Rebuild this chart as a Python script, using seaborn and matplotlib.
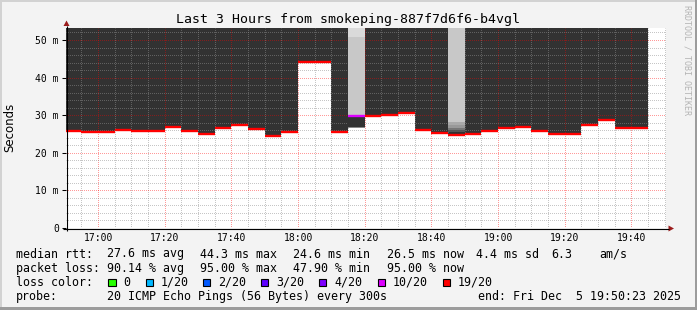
import matplotlib
matplotlib.use("Agg")
import matplotlib.pyplot as plt
import seaborn as sns
import pandas as pd
import numpy as np
from matplotlib.patches import Rectangle, Polygon

# ---------------- data ----------------
title = "Last 3 Hours from smokeping-887f7d6f6-b4vgl"
window_start = "16:50:23"
window_minutes = 180

bar_start = ["16:50", "16:55", "17:00", "17:05", "17:10", "17:15", "17:20",
             "17:25", "17:30", "17:35", "17:40", "17:45", "17:50", "17:55",
             "18:00", "18:05", "18:10", "18:15", "18:20", "18:25", "18:30",
             "18:35", "18:40", "18:45", "18:50", "18:55", "19:00", "19:05",
             "19:10", "19:15", "19:20", "19:25", "19:30", "19:35", "19:40"]
median_ms = [25.7, 25.6, 25.6, 26.0, 25.9, 25.9, 26.9,
             25.7, 25.1, 26.6, 27.3, 26.3, 24.5, 25.4,
             44.1, 44.2, 25.5, 29.7, 29.7, 30.0, 30.6,
             26.1, 25.2, 24.8, 25.0, 25.8, 26.6, 26.9,
             25.8, 24.9, 24.9, 27.5, 28.8, 26.5, 26.5]
bar_loss = ["19/20", "19/20", "19/20", "19/20", "19/20", "19/20", "19/20",
            "19/20", "19/20", "19/20", "19/20", "19/20", "19/20", "19/20",
            "19/20", "19/20", "19/20", "10/20", "19/20", "19/20", "19/20",
            "19/20", "19/20", "19/20", "19/20", "19/20", "19/20", "19/20",
            "19/20", "19/20", "19/20", "19/20", "19/20", "19/20", "19/20"]
smoke_top_ms = 53.3

# extra smoke bands for the two bars with fewer losses
band_bar = ["18:15", "18:15", "18:15", "18:15",
            "18:45", "18:45", "18:45", "18:45", "18:45"]
band_lo = [26.7, 26.9, 29.7, 50.8,
           25.4, 26.0, 26.6, 27.4, 28.3]
band_hi = [26.9, 29.7, 50.8, 53.3,
           26.0, 26.6, 27.4, 28.3, 53.3]
band_shade = ["s4", "s0", "s6", "s7",
              "s1", "s2", "s3", "s5", "s6"]

loss_labels = ["0", "1/20", "2/20", "3/20", "4/20", "10/20", "19/20"]
loss_colors = ["#26ff00", "#00b8ff", "#0059ff", "#5e00ff", "#7e00ff", "#dd00ff", "#ff0000"]

x_tick_labels = ["17:00", "17:20", "17:40", "18:00", "18:20", "18:40", "19:00", "19:20", "19:40"]
y_ticks = [0, 10, 20, 30, 40, 50]
y_tick_labels = ["0", "10 m", "20 m", "30 m", "40 m", "50 m"]

legend_rows = [
    [("median rtt:", 16), ("27.6 ms avg", 107.3), ("44.3 ms max", 200), ("24.6 ms min", 293.3),
     ("26.5 ms now", 386.7), ("4.4 ms sd", 476), ("6.3", 551), ("am/s", 599.5)],
    [("packet loss:", 16), ("90.14 % avg", 107.3), ("95.00 % max", 200), ("47.90 % min", 293.3),
     ("95.00 % now", 386.7)],
]
probe_text = "20 ICMP Echo Pings (56 Bytes) every 300s"
end_text = "end: Fri Dec  5 19:50:23 2025"

# ---------------- style ----------------
shade_colors = {"s0": "#323232", "s1": "#555555", "s2": "#777777", "s3": "#999999",
                "s4": "#888888", "s5": "#aaaaaa", "s6": "#c8c8c8", "s7": "#dadada"}
DARK = "#323232"
BG = "#f3f3f3"
MONO = "DejaVu Sans Mono"


def to_min(s):
    parts = [int(p) for p in s.split(":")]
    while len(parts) < 3:
        parts.append(0)
    return (parts[0] - 16) * 60 + parts[1] + parts[2] / 60.0


sns.set_theme(style="white")
plt.rcParams["font.family"] = ["DejaVu Sans Mono", "DejaVu Sans"]

W, H = 697, 310
fig = plt.figure(figsize=(W / 100, H / 100), dpi=100, facecolor=BG)

x0 = to_min(window_start)
x1 = x0 + window_minutes
L, R = 66.0, 666.0
Y0, YT = 228.0, 27.6
ax = fig.add_axes([L / W, (H - Y0) / H, (R - L) / W, (Y0 - YT) / H])
ax.set_facecolor("white")

starts = np.array([to_min(s) for s in bar_start])
df = pd.DataFrame({"center": starts + 2.5, "median": median_ms,
                   "top": [smoke_top_ms] * len(starts)})

sns.barplot(data=df, x="center", y="top", native_scale=True, width=1, color=DARK,
            saturation=1, errorbar=None, linewidth=0, antialiased=False, ax=ax)
sns.barplot(data=df, x="center", y="median", native_scale=True, width=1, color="white",
            saturation=1, errorbar=None, linewidth=0, antialiased=False, ax=ax)

for b, lo, hi, sh in zip(band_bar, band_lo, band_hi, band_shade):
    ax.bar(to_min(b), hi - lo, bottom=lo, width=5, align="edge",
           color=shade_colors[sh], linewidth=0, antialiased=False, zorder=2.7)

loss_map = dict(zip(loss_labels, loss_colors))
ax.hlines(median_ms, starts, starts + 5, colors=[loss_map[l] for l in bar_loss],
          linewidth=1.7, zorder=3, capstyle="butt")

ax.set_xlim(x0, x1)
ax.set_ylim(0, smoke_top_ms)
ax.set_xlabel("")
ax.set_ylabel("")

major_x = [to_min(t) for t in x_tick_labels]
ax.set_xticks(major_x)
ax.set_xticklabels(x_tick_labels)
ax.set_xticks(np.arange(55, 231, 5), minor=True)
ax.set_yticks(y_ticks)
ax.set_yticklabels(y_tick_labels)
ax.set_yticks(np.arange(2, 53, 2), minor=True)

ax.set_axisbelow(False)
ax.grid(which="major", color="#ff0000", alpha=0.4, linestyle=(0.5, (1, 1)), linewidth=0.72)
ax.grid(which="minor", color="#8f8f8f", alpha=0.5, linestyle=(0.5, (1, 1)), linewidth=0.72)

ax.tick_params(axis="x", which="both", length=0, pad=3.8, labelsize=7, labelcolor="black")
ax.tick_params(axis="y", which="major", length=3, width=0.75, direction="out", pad=2.2,
               labelsize=7, labelcolor="black", color="black", left=True)
ax.tick_params(axis="y", which="minor", length=0)
for lab in ax.get_xticklabels() + ax.get_yticklabels():
    lab.set_family(MONO)
for sp in ax.spines.values():
    sp.set_visible(False)

# ---------------- overlay in pixel coordinates ----------------
ov = fig.add_axes([0, 0, 1, 1], zorder=10)
ov.set_xlim(0, W)
ov.set_ylim(H, 0)
ov.axis("off")
ov.patch.set_alpha(0)

# frame bevel
ov.add_patch(Rectangle((0, 0), W, 2, color="#d2d2d2", lw=0))
ov.add_patch(Rectangle((0, 0), 2, H, color="#d2d2d2", lw=0))
ov.add_patch(Rectangle((0, H - 3), W, 3, color="#9c9c9c", lw=0))
ov.add_patch(Rectangle((W - 2, 0), 2, H, color="#9c9c9c", lw=0))

# axes lines & arrows
ov.plot([66.5, 66.5], [231, 25.5], color="black", lw=0.8, solid_capstyle="butt")
ov.plot([63, 669], [228.5, 228.5], color="black", lw=0.8, solid_capstyle="butt")
ov.add_patch(Polygon([(63.5, 26), (69.5, 26), (66.5, 20.5)], closed=True, color="#9b1c1c", lw=0))
ov.add_patch(Polygon([(668.5, 225.5), (668.5, 231.5), (674, 228.5)], closed=True, color="#9b1c1c", lw=0))

# titles
ov.text(W / 2, 19.5, title, ha="center", va="center", fontsize=9.5, family=MONO, color="black")
ov.text(10, 127, "Seconds", rotation=90, ha="center", va="center", fontsize=8.5,
        family="DejaVu Sans", color="black")
ov.text(687, 5, "RRDTOOL / TOBI OETIKER", rotation=-90, ha="center", va="top",
        fontsize=6, family=MONO, color="#b4b4b4")

# legend
LFS = 8.35
row_y = [254, 268.3, 282.3, 296.3]
for row, yy in zip(legend_rows, row_y[:2]):
    for txt, xx in row:
        ov.text(xx, yy, txt, ha="left", va="center", fontsize=LFS, family=MONO, color="black")

ov.text(16, row_y[2], "loss color:", ha="left", va="center", fontsize=LFS, family=MONO, color="black")
sq_x = [108.3, 145.7, 203, 261, 319, 377.7, 442.7]
for sx, lab, col in zip(sq_x, loss_labels, loss_colors):
    ov.add_patch(Rectangle((sx, row_y[2] - 3.8), 7.4, 7.4, facecolor=col, edgecolor="black", lw=0.8))
    ov.text(sx + 15, row_y[2], lab, ha="left", va="center", fontsize=LFS, family=MONO, color="black")

ov.text(16, row_y[3], "probe:", ha="left", va="center", fontsize=LFS, family=MONO, color="black")
ov.text(107.3, row_y[3], probe_text, ha="left", va="center", fontsize=LFS, family=MONO, color="black")
ov.text(680.5, row_y[3], end_text, ha="right", va="center", fontsize=LFS, family=MONO, color="black")

fig.savefig("out.png", dpi=100, facecolor=BG)
